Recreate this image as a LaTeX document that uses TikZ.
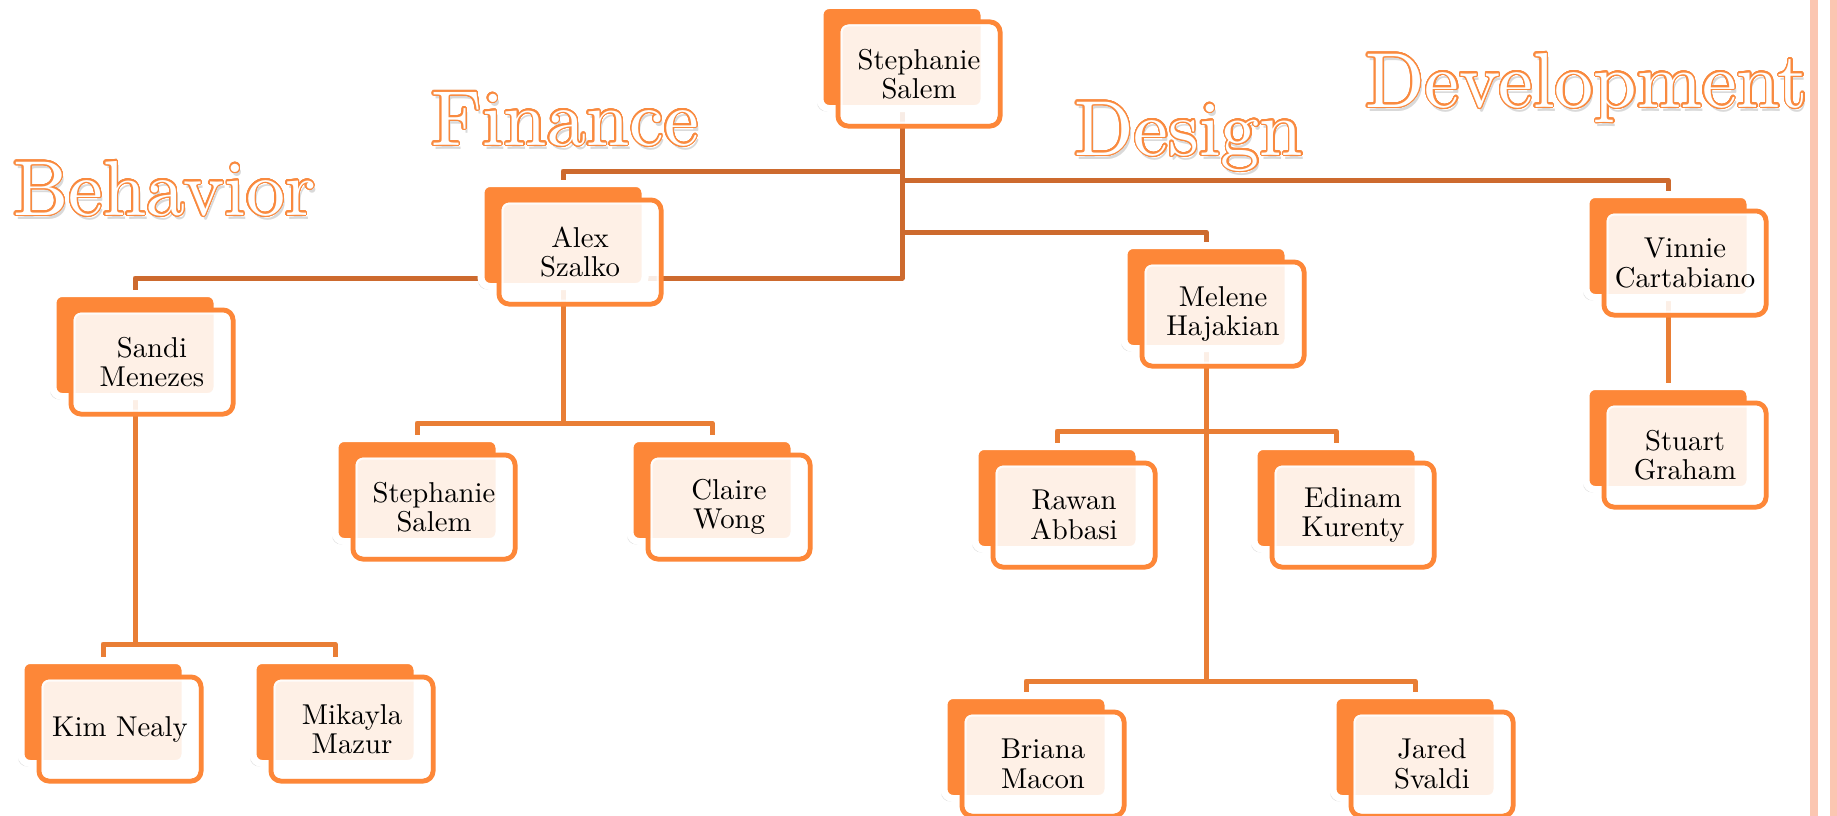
\documentclass[tikz,border=0pt]{standalone}
\usepackage{fontspec}
\setmainfont{lmroman10-regular.otf}
\usepackage[copies]{contour}
\usetikzlibrary{calc,shadows}
\definecolor{orfill}{HTML}{FD8738}
\definecolor{topcol}{HTML}{CD6A2E}
\definecolor{subcol}{HTML}{E97E35}
\definecolor{barcol}{HTML}{FBC6B1}
\definecolor{headcol}{HTML}{F98A3F}
\pgfdeclarelayer{canvas}
\pgfdeclarelayer{background}
\pgfsetlayers{canvas,background,main}
\contourlength{1.3pt}
\contournumber{32}
\tikzset{
  backbox/.style={rectangle, rounded corners=9pt, minimum width=164pt, minimum height=103pt,
    inner sep=0pt, fill=orfill, draw=white, line width=7pt,
    drop shadow={shadow xshift=-3pt, shadow yshift=-3pt, opacity=0.22}},
  frontbox/.style={rectangle, rounded corners=10pt, minimum width=162pt, minimum height=104pt,
    inner sep=0pt, draw=orfill, line width=5pt, fill=white, fill opacity=0.88, text opacity=1,
    align=center, font=\fontsize{28.7}{29.5}\selectfont},
  innerline/.style={draw=white, line width=2pt, rounded corners=7pt, opacity=0.8},
  toplink/.style={draw=topcol, line width=5pt, line join=round},
  sublink/.style={draw=subcol, line width=5pt, line join=round},
  heading/.style={anchor=base west, inner sep=0pt, font=\fontsize{78}{80}\selectfont},
}
\newcommand\orgbox[4]{%
  \node[backbox] (#1-b) at (#2-17,#3-17) {};
  \node[frontbox] (#1) at (#2,#3) {#4};
  \draw[innerline] ($(#1.south west)+(6pt,6pt)$) rectangle ($(#1.north east)+(-6pt,-6pt)$);
}
\newcommand\headline[4]{%
  \node[heading, text=black, opacity=0.15] (#1-s) at (#2+2,#3+4) {#4};
  \node[heading] (#1) at (#2,#3) {\contour{headcol}{\textcolor{white}{#4}}};
}
\begin{document}
\begin{tikzpicture}[x=1pt,y=-1pt]
\useasboundingbox (0,0) rectangle (1837,816);
\begin{pgfonlayer}{canvas}
  \fill[white] (0,0) rectangle (1837,816);
  \fill[barcol] (1810,0) rectangle (1818,816);
  \fill[barcol] (1830,0) rectangle (1837,816);
\end{pgfonlayer}

\headline{hBeh}{13}{215}{Behavior}
\headline{hFin}{431}{145}{Finance}
\headline{hDes}{1074}{155}{Design}
\headline{hDev}{1365}{107}{Development}

\orgbox{top}{919}{74}{Stephanie\\Salem}
\orgbox{alex}{580}{252}{Alex\\Szalko}
\orgbox{sandi}{152}{362}{Sandi\\Menezes}
\orgbox{steph}{434}{507}{Stephanie\\Salem}
\orgbox{claire}{729}{507}{Claire\\Wong}
\orgbox{melene}{1223}{314}{Melene\\Hajakian}
\orgbox{vinnie}{1685}{263}{Vinnie\\Cartabiano}
\orgbox{stuart}{1685}{455}{Stuart\\Graham}
\orgbox{rawan}{1074}{515}{Rawan\\Abbasi}
\orgbox{edinam}{1353}{515}{Edinam\\Kurenty}
\orgbox{kim}{120}{729}{Kim Nealy}
\orgbox{mikayla}{352}{729}{Mikayla\\Mazur}
\orgbox{briana}{1043}{764}{Briana\\Macon}
\orgbox{jared}{1432}{764}{Jared\\Svaldi}

\begin{pgfonlayer}{background}
  \coordinate (yA) at (0,171);
  \coordinate (yV) at (0,180);
  \coordinate (yM) at (0,232);
  \coordinate (yS) at (0,278);
  \coordinate (yAl) at (0,423);
  \coordinate (yK) at (0,644);
  \coordinate (yR) at (0,431);
  \coordinate (yB) at (0,681);
  \draw[toplink] (top-b.south) -- (top-b.south |- yS) -| (sandi-b.north);
  \draw[toplink] (top-b.south |- yA) -| (alex-b.north);
  \draw[toplink] (top-b.south |- yV) -| (vinnie-b.north);
  \draw[toplink] (top-b.south |- yM) -| (melene-b.north);
  \draw[sublink] (alex-b.south) -- (alex-b.south |- yAl);
  \draw[sublink] (steph-b.north) |- (alex-b.south |- yAl) -| (claire-b.north);
  \draw[sublink] (sandi-b.south) -- (sandi-b.south |- yK);
  \draw[sublink] (kim-b.north) |- (sandi-b.south |- yK) -| (mikayla-b.north);
  \draw[sublink] (melene-b.south) -- (melene-b.south |- yB);
  \draw[sublink] (rawan-b.north) |- (melene-b.south |- yR) -| (edinam-b.north);
  \draw[sublink] (briana-b.north) |- (melene-b.south |- yB) -| (jared-b.north);
  \draw[sublink] (vinnie-b.south) -- (stuart-b.north);
\end{pgfonlayer}
\end{tikzpicture}
\end{document}
